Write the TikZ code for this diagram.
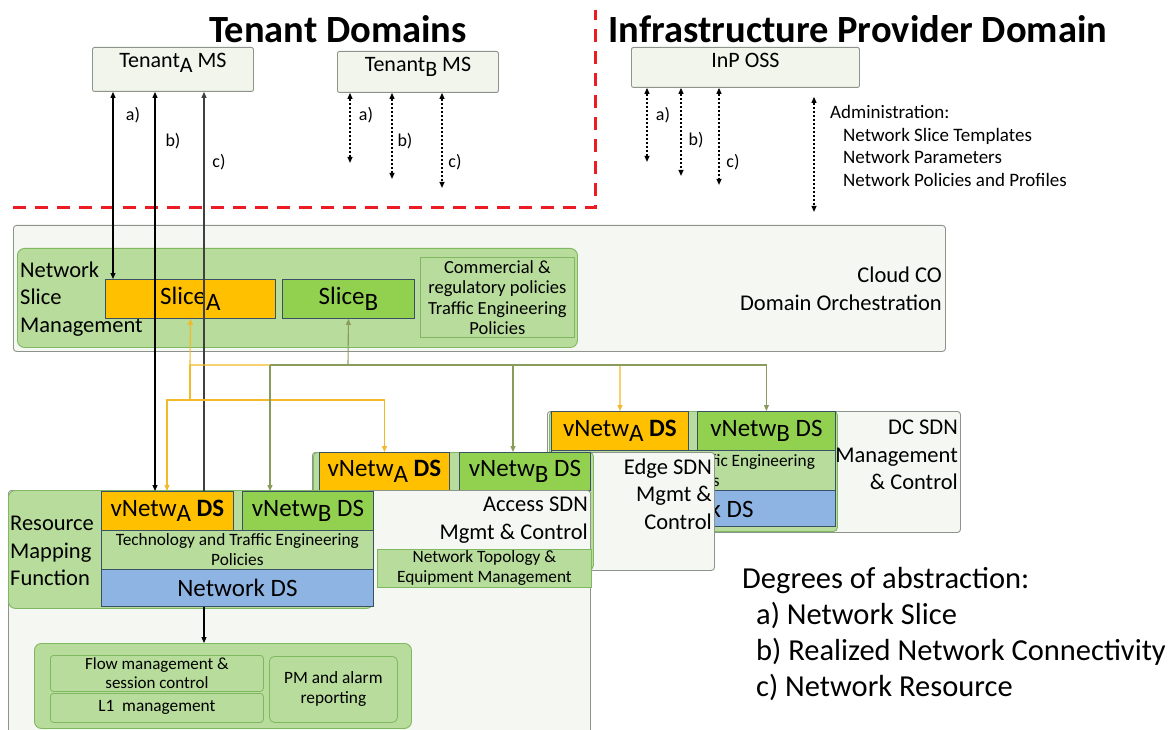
\documentclass[tikz,border=0pt]{standalone}
\usepackage{fontspec}
\setmainfont{Carlito}
\usepackage{xcolor}
\usepackage{tikz}
\usetikzlibrary{arrows.meta}
\definecolor{PanelFill}{RGB}{245,247,242}
\definecolor{PanelLine}{RGB}{140,148,140}
\definecolor{MSFill}{RGB}{241,245,236}
\definecolor{LightGreen}{RGB}{183,220,155}
\definecolor{GreenLine}{RGB}{128,184,98}
\definecolor{SliceOrange}{RGB}{255,192,0}
\definecolor{SliceGreen}{RGB}{146,208,80}
\definecolor{DSBlue}{RGB}{142,180,227}
\definecolor{BoxLine}{RGB}{58,80,100}
\definecolor{LinkYellow}{RGB}{242,186,40}
\definecolor{LinkOlive}{RGB}{138,156,92}
\definecolor{DomainRed}{RGB}{236,28,36}
\newcommand{\lowsub}[1]{\raisebox{-0.45ex}{#1}}

\tikzset{
  title/.style={font=\bfseries\fontsize{38.5}{44}\selectfont, inner sep=0pt},
  domainline/.style={draw=DomainRed, line width=3pt, dash pattern=on 13pt off 9pt},
  msbox/.style={draw=PanelLine, fill=MSFill, anchor=north west, inner sep=0pt, rounded corners=2pt, line width=0.9pt},
  mstext/.style={anchor=north, inner sep=6pt, font=\fontsize{22}{25}\selectfont},
  panel/.style={draw=PanelLine, fill=PanelFill, anchor=north west, inner sep=0pt, rounded corners=3pt, line width=0.9pt},
  paneltext/.style={inner sep=0pt, align=right, font=\fontsize{22.5}{27.5}\selectfont},
  greenbox/.style={draw=GreenLine, fill=LightGreen, anchor=north west, inner sep=0pt, rounded corners=7pt, line width=0.9pt},
  subbox/.style={draw=GreenLine, fill=LightGreen, anchor=north west, inner sep=0pt, align=center, line width=0.8pt, font=\fontsize{17.3}{20}\selectfont},
  dsbox/.style={draw=BoxLine, anchor=north west, inner sep=0pt, line width=0.9pt, font=\fontsize{25}{28}\selectfont},
  small/.style={inner sep=0pt, font=\fontsize{18}{20}\selectfont},
  link/.style={line width=1.1pt, >={Triangle[length=6pt,width=5pt]}},
  dotlink/.style={link, dash pattern=on 2.5pt off 1.5pt}
}

\begin{document}
\begin{tikzpicture}[x=1pt, y=-1pt]
    \useasboundingbox (0,0) rectangle (1170,730);
    \clip (0,0) rectangle (1170,730);

    % Domains
    \node[title] (tenTitle) at (338,29) {Tenant Domains};
    \node[title] (inpTitle) at (858,29) {Infrastructure Provider Domain};
    \draw[domainline] (13,208) -- (595,208) -- (595,10);

    % Management systems
    \node[msbox, minimum width=161pt, minimum height=44pt, label={[mstext]north:Tenant\lowsub{A} MS}] (tenA) at (92,47) {};
    \node[msbox, minimum width=161pt, minimum height=41pt, label={[mstext]north:Tenant\lowsub{B} MS}] (tenB) at (337,51) {};
    \node[msbox, minimum width=228pt, minimum height=40pt, label={[mstext]north:InP OSS}] (inp) at (631,47) {};

    \node[small] (tenAa) at (133,115) {a)};
    \node[small] (tenAb) at (173,141) {b)};
    \node[small] (tenAc) at (219,162) {c)};
    \node[small] (tenBa) at (366,115) {a)};
    \node[small] (tenBb) at (405,141) {b)};
    \node[small] (tenBc) at (455,162) {c)};
    \node[small] (inpa) at (663,115) {a)};
    \node[small] (inpb) at (696,140) {b)};
    \node[small] (inpc) at (733,162) {c)};
    \node[anchor=west, align=left, inner sep=0pt, font=\fontsize{19}{22.7}\selectfont] (admin) at (830,146)
        {Administration:\\\hspace*{13pt}Network Slice Templates\\\hspace*{13pt}Network Parameters\\\hspace*{13pt}Network Policies and Profiles};

    % Cloud CO
    \node[panel, minimum width=932pt, minimum height=126pt] (cloud) at (13,225) {};
    \node[paneltext, anchor=east] (cloudTxt) at (942,289) {Cloud CO\\Domain Orchestration};
    \node[greenbox, minimum width=560pt, minimum height=99pt] (nsm) at (17,248) {};
    \node[paneltext, anchor=west, align=left] (nsmTxt) at (20,299) {Network\\Slice\\Management};
    \node[dsbox, fill=SliceOrange, minimum width=170pt, minimum height=39pt] (sliceA) at (105,279) {Slice\lowsub{A}};
    \node[dsbox, fill=SliceGreen, minimum width=132pt, minimum height=39pt] (sliceB) at (282,279) {Slice\lowsub{B}};
    \node[subbox, minimum width=154pt, minimum height=80pt, font=\fontsize{18.5}{20.5}\selectfont] (nsmPol) at (420,257) {Commercial \&\\regulatory policies\\Traffic Engineering\\Policies};

    % DC SDN
    \node[panel, minimum width=413pt, minimum height=121pt] (dc) at (547,411) {};
    \node[greenbox, rounded corners=4pt, minimum width=288pt, minimum height=120pt] (dcGrn) at (549,411) {};
    \node[dsbox, fill=SliceOrange, minimum width=137pt, minimum height=39pt] (dcA) at (551,411) {vNetw\lowsub{A} \textbf{DS}};
    \node[dsbox, fill=SliceGreen, minimum width=138pt, minimum height=39pt] (dcB) at (697,411) {vNetw\lowsub{B} DS};
    \node[subbox, draw=BoxLine, minimum width=284pt, minimum height=40pt] (dcTE) at (551,450) {Technology and Traffic Engineering\\Policies};
    \node[dsbox, fill=DSBlue, minimum width=284pt, minimum height=36pt] (dcDS) at (551,490) {Network DS};
    \node[paneltext, anchor=east] (dcTxt) at (958,455) {DC SDN\\Management\\\& Control};

    % Edge SDN
    \node[panel, minimum width=402pt, minimum height=118pt] (edge) at (312,452) {};
    \node[greenbox, rounded corners=4pt, minimum width=280pt, minimum height=117pt] (edgeGrn) at (313,452) {};
    \node[dsbox, fill=SliceOrange, minimum width=130pt, minimum height=38pt] (edgeA) at (319,452) {vNetw\lowsub{A} \textbf{DS}};
    \node[dsbox, fill=SliceGreen, minimum width=131pt, minimum height=38pt] (edgeB) at (459,452) {vNetw\lowsub{B} DS};
    \node[paneltext, anchor=east] (edgeTxt) at (712,494) {Edge SDN\\Mgmt \&\\Control};

    % Access SDN
    \node[panel, minimum width=582pt, minimum height=260pt] (access) at (8,490) {};
    \node[paneltext, anchor=east] (accessTxt) at (588,520) {Access SDN\\Mgmt \& Control};
    \node[subbox, minimum width=214pt, minimum height=38pt] (topo) at (377,549) {Network Topology \&\\Equipment Management};

    % Resource mapping
    \node[greenbox, minimum width=365pt, minimum height=118pt] (rm) at (8,490) {};
    \node[paneltext, anchor=west, align=left] (rmTxt) at (10,551) {Resource\\Mapping\\Function};
    \node[dsbox, fill=SliceOrange, minimum width=132pt, minimum height=39pt] (rmA) at (101,491) {vNetw\lowsub{A} \textbf{DS}};
    \node[dsbox, fill=SliceGreen, minimum width=131pt, minimum height=39pt] (rmB) at (242,491) {vNetw\lowsub{B} DS};
    \node[subbox, draw=BoxLine, minimum width=272pt, minimum height=39pt] (rmTE) at (101,530) {Technology and Traffic Engineering\\Policies};
    \node[dsbox, fill=DSBlue, minimum width=272pt, minimum height=37pt] (rmDS) at (101,569) {Network DS};

    % Control functions
    \node[greenbox, minimum width=377pt, minimum height=85pt] (ctrl) at (34,643) {};
    \node[subbox, rounded corners=3pt, minimum width=213pt, minimum height=36pt, font=\fontsize{17}{19}\selectfont] (flow) at (50,655) {Flow management \&\\session control};
    \node[subbox, rounded corners=3pt, minimum width=213pt, minimum height=29pt] (l1) at (50,693) {L1\ \ management};
    \node[subbox, rounded corners=5pt, minimum width=128pt, minimum height=66pt] (pm) at (269,656) {PM and alarm\\reporting};

    % Degrees of abstraction
    \node[anchor=west, align=left, inner sep=0pt, font=\fontsize{30.5}{36.3}\selectfont] (degrees) at (742,634)
        {Degrees of abstraction:\\\hspace*{14pt}a) Network Slice\\\hspace*{14pt}b) Realized Network Connectivity\\\hspace*{14pt}c) Network Resource};

    % Tenant A links
    \draw[link, <->] (tenA.south -| 113,0) -- (sliceA.north -| 113,0);
    \draw[link, <->] (tenA.south -| 155,0) -- (rmA.north -| 155,0);
    \draw[link, <-, black!75] (tenA.south -| 204,0) -- (rmA.north -| 204,0);
    \draw[link, ->] (rmDS.south -| 204,0) -- (ctrl.north -| 204,0);

    % Tenant B and InP links
    \draw[dotlink, <->] (tenB.south -| 350,0) -- ++(0,70);
    \draw[dotlink, <->] (tenB.south -| 392,0) -- ++(0,86);
    \draw[dotlink, <->] (tenB.south -| 442,0) -- ++(0,95);
    \draw[dotlink, <->] (inp.south -| 647,0) -- ++(0,74);
    \draw[dotlink, <->] (inp.south -| 681,0) -- ++(0,88);
    \draw[dotlink, <->] (inp.south -| 719,0) -- ++(0,97);
    \draw[dotlink, <->] (inp.south -| 814,0) ++(0,9) -- ++(0,115);

    % Slice A tree
    \coordinate (yJoin) at (190,365);
    \coordinate (ySplit) at (190,400);
    \draw[link, LinkYellow, <->] (sliceA.south) -- (yJoin) -| (dcA.north);
    \draw[link, LinkYellow, ->] (yJoin) -- (ySplit) -| (rmA.north -| 167,0);
    \draw[link, LinkYellow, ->] (ySplit) -| (edgeA.north);

    % Slice B tree
    \coordinate (oJoin) at (348,365);
    \coordinate (oLeft) at (270,365);
    \draw[link, LinkOlive, <-] (sliceB.south) -- (oJoin);
    \draw[link, LinkOlive, ->] (oLeft) -| (dcB.north);
    \draw[link, LinkOlive, ->] (oLeft) -- (rmB.north -| oLeft);
    \draw[link, LinkOlive, ->] (513,365) -- (edgeB.north -| 513,0);
\end{tikzpicture}
\end{document}
